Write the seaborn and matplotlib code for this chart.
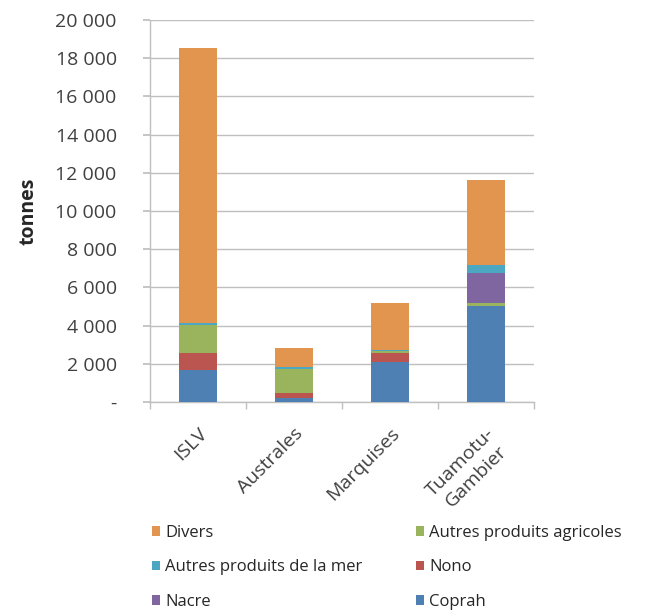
import numpy as np
import pandas as pd
import matplotlib
matplotlib.use("Agg")
import matplotlib.pyplot as plt
import seaborn as sns
from matplotlib.patches import Patch
from matplotlib.ticker import FuncFormatter

regions = ["ISLV", "Australes", "Marquises", "Tuamotu-\nGambier"]
coprah = [1700, 220, 2110, 5040]
nono = [880, 250, 470, 0]
agricoles = [1450, 1280, 110, 120]
nacre = [0, 0, 0, 1570]
mer = [120, 60, 30, 430]
divers = [14400, 1000, 2450, 4450]

series_names = ["Coprah", "Nono", "Autres produits agricoles", "Nacre",
                "Autres produits de la mer", "Divers"]
series_vals = [coprah, nono, agricoles, nacre, mer, divers]
colors = {"Coprah": "#4F80B4", "Nono": "#BB5550", "Autres produits agricoles": "#9AB45E",
          "Nacre": "#7F66A1", "Autres produits de la mer": "#4CA7C2", "Divers": "#E2954F"}

sns.set_theme(style="white")
plt.rcParams["font.family"] = ["Open Sans", "DejaVu Sans"]

fig = plt.figure(figsize=(6.58, 6.12), dpi=100)
ax = fig.add_axes([150/658, 1-402/612, (534-150)/658, (402-20)/612])

cum = np.zeros(len(regions))
cums = []
for name, vals in zip(series_names, series_vals):
    cum = cum + np.array(vals)
    cums.append((name, cum.copy()))

for name, c in reversed(cums):
    d = pd.DataFrame({"region": regions, "value": c})
    sns.barplot(data=d, x="region", y="value", color=colors[name], width=0.4,
                saturation=1, ax=ax, zorder=3, linewidth=0)

ax.set_ylim(0, 20000)
ax.set_xlim(-0.5, 3.5)
ax.set_yticks(np.arange(0, 20001, 2000))
ax.yaxis.set_major_formatter(FuncFormatter(lambda v, p: "-" if v == 0 else f"{int(v):,}".replace(",", " ")))
ax.grid(axis="y", color="#BFBFBF", linewidth=1, zorder=0)
ax.grid(axis="x", visible=False)
for s in ["top", "right"]:
    ax.spines[s].set_visible(False)
for s in ["left", "bottom"]:
    ax.spines[s].set_color("#BFBFBF")
    ax.spines[s].set_linewidth(1)
ax.tick_params(axis="y", left=True, length=5, color="#BFBFBF", labelsize=14, labelcolor="#404040", pad=19)
ax.set_xticks(np.arange(len(regions)))
ax.set_xticklabels(regions, rotation=45, ha="right", rotation_mode="anchor", fontsize=14, color="#404040")
ax.set_xticks(np.arange(-0.5, 4, 1), minor=True)
ax.tick_params(axis="x", which="major", bottom=False, pad=10)
ax.tick_params(axis="x", which="minor", bottom=True, length=5, color="#BFBFBF")
ax.set_xlabel("")
ax.set_ylabel("tonnes", fontsize=14, fontweight="bold", color="#262626", labelpad=12)
for lbl in ax.get_xticklabels():
    lbl.set_multialignment("center")

order = ["Divers", "Autres produits de la mer", "Nacre",
         "Autres produits agricoles", "Nono", "Coprah"]
handles = [Patch(facecolor=colors[n], edgecolor="none") for n in order]
fig.legend(handles, order, ncol=2, loc="upper left", bbox_to_anchor=(137/658, 1-510/612),
           frameon=False, fontsize=12, handlelength=0.5, handleheight=0.5, handletextpad=0.3,
           columnspacing=3.2, labelspacing=1.1, labelcolor="#262626")

fig.savefig("out.png", dpi=100)
